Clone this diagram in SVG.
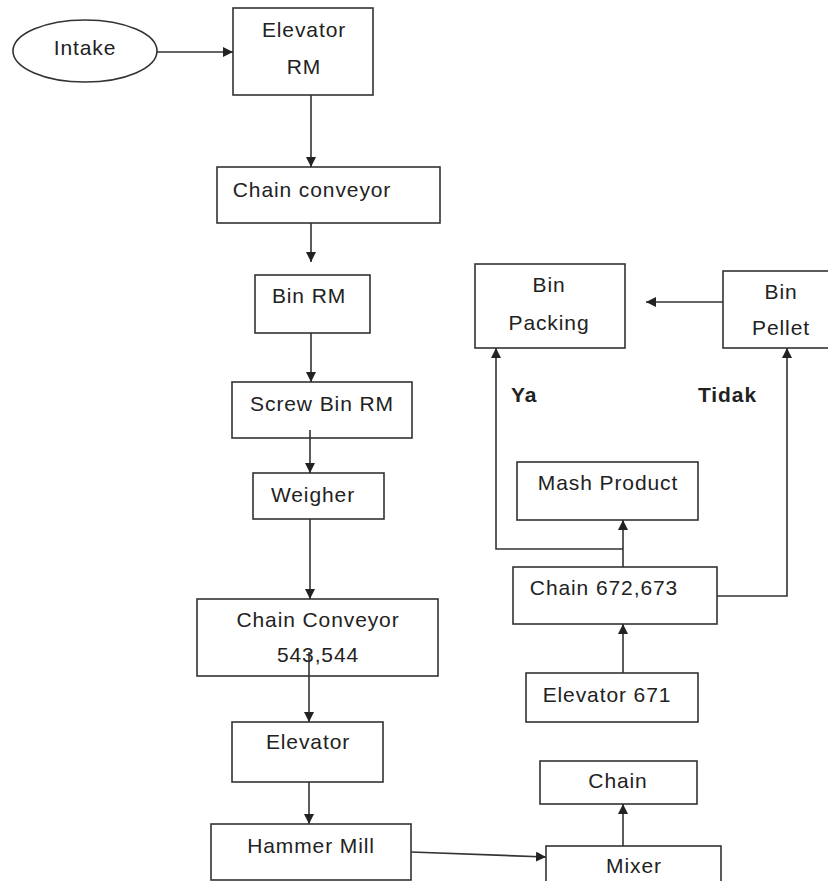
<svg xmlns="http://www.w3.org/2000/svg" width="828" height="881" viewBox="0 0 828 881">
<defs>
<marker id="ah" viewBox="0 0 10 10" refX="10" refY="5" markerWidth="10" markerHeight="10" markerUnits="userSpaceOnUse" orient="auto">
<path d="M0,0 L10,5 L0,10 z" fill="#222"/>
</marker>
<style>
.box{fill:none;stroke:#333;stroke-width:1.6}
.t{font-family:"Liberation Sans",Arial,sans-serif;font-size:21px;fill:#222;text-anchor:middle;letter-spacing:0.9px}
.b{font-family:"Liberation Sans",Arial,sans-serif;font-size:21px;font-weight:bold;fill:#222;letter-spacing:0.9px}
.c{fill:none;stroke:#333;stroke-width:1.6}
</style>
</defs>
<rect width="828" height="881" fill="#fff"/>
<g id="intake"><ellipse class="box" cx="85" cy="51" rx="72" ry="31"/><text class="t" x="85" y="55">Intake</text></g>
<g id="elevator-rm"><rect class="box" x="233" y="8" width="140" height="87"/><text class="t" x="304" y="37">Elevator</text><text class="t" x="304" y="74">RM</text></g>
<g id="chain-conveyor"><rect class="box" x="217" y="167" width="223" height="56"/><text class="t" x="312" y="197">Chain conveyor</text></g>
<g id="bin-rm"><rect class="box" x="255" y="275" width="115" height="58"/><text class="t" x="309" y="303">Bin RM</text></g>
<g id="screw-bin-rm"><rect class="box" x="232" y="382" width="180" height="56"/><text class="t" x="322" y="411">Screw Bin RM</text></g>
<g id="weigher"><rect class="box" x="253" y="473" width="131" height="46"/><text class="t" x="313" y="502">Weigher</text></g>
<g id="chain-conveyor-543"><rect class="box" x="197" y="599" width="241" height="77"/><text class="t" x="318" y="627">Chain Conveyor</text><text class="t" x="318" y="662">543,544</text></g>
<g id="elevator"><rect class="box" x="232" y="722" width="151" height="60"/><text class="t" x="308" y="749">Elevator</text></g>
<g id="hammer-mill"><rect class="box" x="211" y="824" width="200" height="56"/><text class="t" x="311" y="853">Hammer Mill</text></g>
<g id="mixer"><rect class="box" x="546" y="846" width="175" height="45"/><text class="t" x="634" y="873">Mixer</text></g>
<g id="chain"><rect class="box" x="540" y="761" width="157" height="43"/><text class="t" x="618" y="788">Chain</text></g>
<g id="elevator-671"><rect class="box" x="526" y="673" width="172" height="49"/><text class="t" x="607" y="702">Elevator 671</text></g>
<g id="chain-672"><rect class="box" x="513" y="567" width="204" height="57"/><text class="t" x="604" y="595">Chain 672,673</text></g>
<g id="mash-product"><rect class="box" x="517" y="462" width="181" height="58"/><text class="t" x="608" y="490">Mash Product</text></g>
<g id="bin-packing"><rect class="box" x="475" y="264" width="150" height="84"/><text class="t" x="549" y="292">Bin</text><text class="t" x="549" y="330">Packing</text></g>
<g id="bin-pellet"><rect class="box" x="723" y="271" width="110" height="77"/><text class="t" x="781" y="299">Bin</text><text class="t" x="781" y="335">Pellet</text></g>
<g id="labels"><text class="b" x="511" y="402">Ya</text><text class="b" x="698" y="402">Tidak</text></g>
<g id="connectors">
<path class="c" d="M157,52 L233,52" marker-end="url(#ah)"/>
<path class="c" d="M311,95 L311,167" marker-end="url(#ah)"/>
<path class="c" d="M311,223 L311,262" marker-end="url(#ah)"/>
<path class="c" d="M311,333 L311,382" marker-end="url(#ah)"/>
<path class="c" d="M310,430 L310,473" marker-end="url(#ah)"/>
<path class="c" d="M310,519 L310,599" marker-end="url(#ah)"/>
<path class="c" d="M309,652 L309,722" marker-end="url(#ah)"/>
<path class="c" d="M309,782 L309,824" marker-end="url(#ah)"/>
<path class="c" d="M411,852 L546,857" marker-end="url(#ah)"/>
<path class="c" d="M623,846 L623,804" marker-end="url(#ah)"/>
<path class="c" d="M623,673 L623,624" marker-end="url(#ah)"/>
<path class="c" d="M623,567 L623,520" marker-end="url(#ah)"/>
<path class="c" d="M623,549 L496,549 L496,348" marker-end="url(#ah)"/>
<path class="c" d="M717,596 L787,596 L787,348" marker-end="url(#ah)"/>
<path class="c" d="M723,302 L646,302" marker-end="url(#ah)"/>
</g>
</svg>
